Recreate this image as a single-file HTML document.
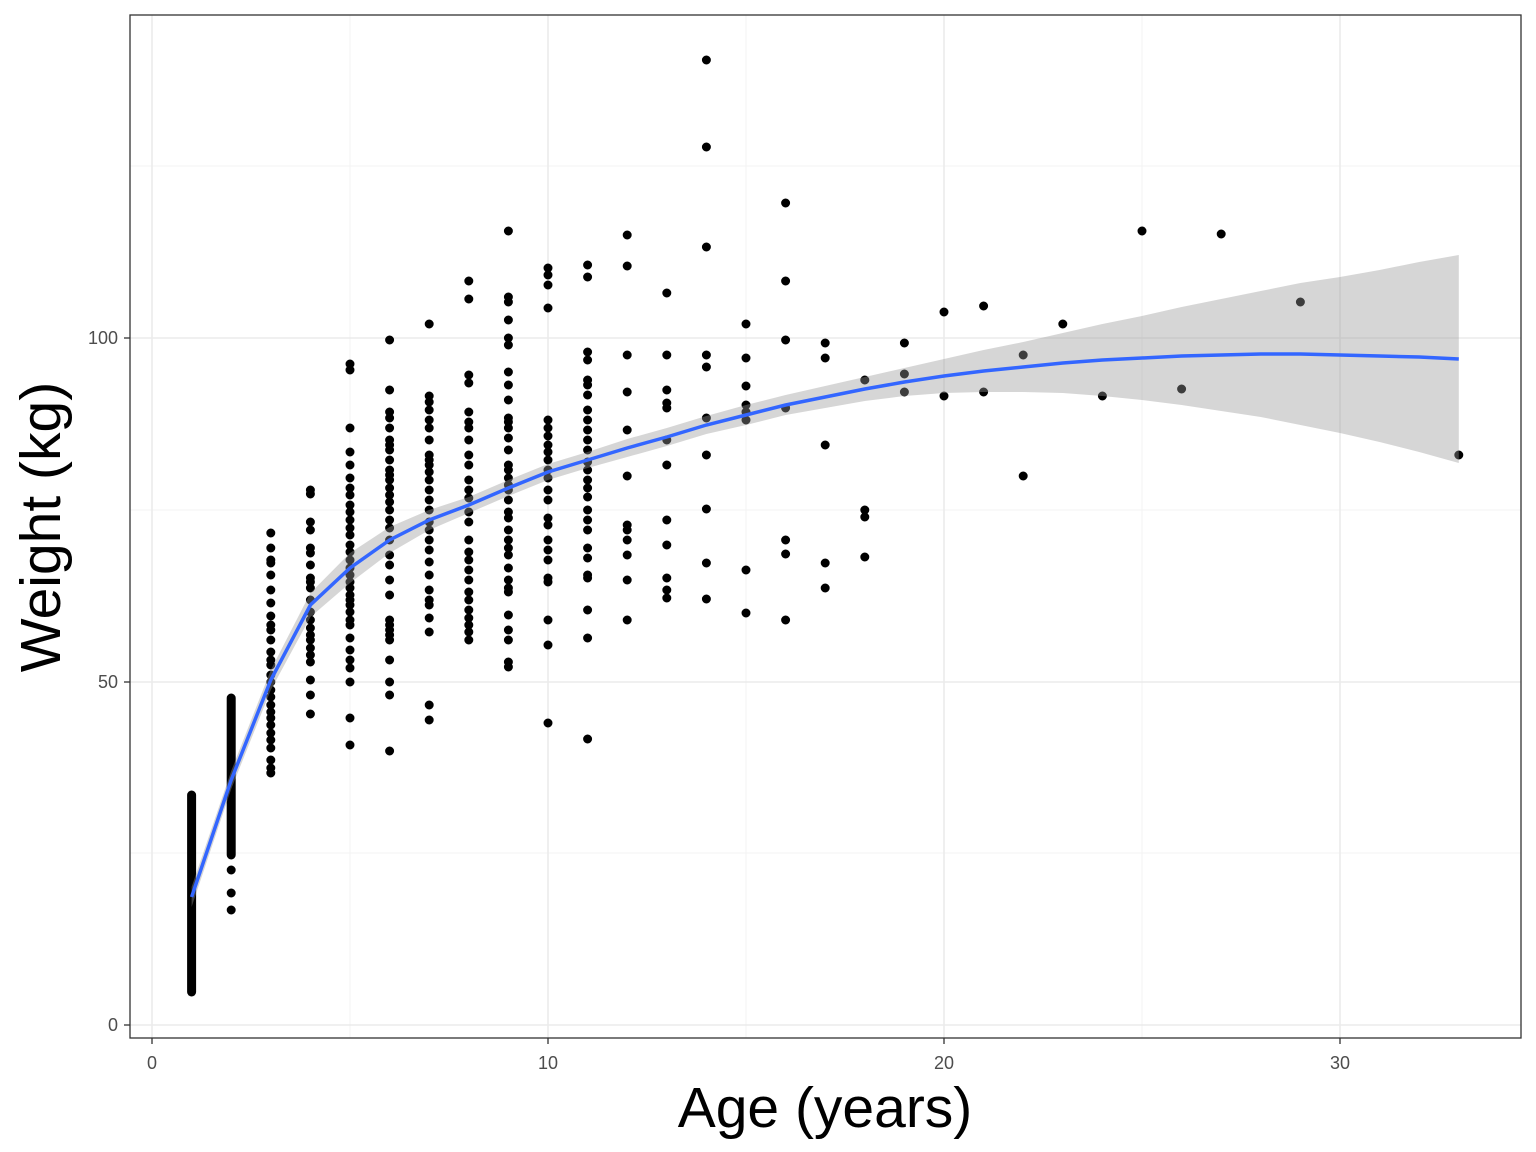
<!DOCTYPE html>
<html><head><style>body{margin:0;background:#fff}svg{display:block}</style></head><body>
<svg width="1536" height="1152" xmlns="http://www.w3.org/2000/svg" font-family="Liberation Sans, sans-serif">
<rect width="1536" height="1152" fill="#fff"/>
<g stroke="#f3f3f3" stroke-width="1">
<line x1="130" x2="1521" y1="853" y2="853"/><line x1="130" x2="1521" y1="510" y2="510"/><line x1="130" x2="1521" y1="166" y2="166"/>
<line x1="350" x2="350" y1="15" y2="1038"/><line x1="746" x2="746" y1="15" y2="1038"/><line x1="1142" x2="1142" y1="15" y2="1038"/>
</g>
<g stroke="#ebebeb" stroke-width="1.6">
<line x1="130" x2="1521" y1="1025" y2="1025"/><line x1="130" x2="1521" y1="682" y2="682"/><line x1="130" x2="1521" y1="338" y2="338"/>
<line x1="152" x2="152" y1="15" y2="1038"/><line x1="548" x2="548" y1="15" y2="1038"/><line x1="944" x2="944" y1="15" y2="1038"/><line x1="1340" x2="1340" y1="15" y2="1038"/>
</g>
<g fill="none" stroke="#000" stroke-width="9" stroke-linecap="round">
<path d="M191.6,795V992"/>
<path d="M231.2,698V855 M231.2,870v0 M231.2,893v0 M231.2,910v0"/>
<path d="M270.8,533v0M270.8,548v0M270.8,560v0M270.8,563v0M270.8,575v0M270.8,590v0M270.8,603v0M270.8,616v0M270.8,625v0M270.8,630v0M270.8,640v0M270.8,652v0M270.8,660v0M270.8,665v0M270.8,675v0M270.8,682v0M270.8,690v0M270.8,697v0M270.8,705v0M270.8,712v0M270.8,718v0M270.8,725v0M270.8,733v0M270.8,740v0M270.8,748v0M270.8,760v0M270.8,768v0M270.8,773v0"/>
<path d="M310.4,490v0M310.4,494v0M310.4,522v0M310.4,530v0M310.4,548v0M310.4,553v0M310.4,565v0M310.4,578v0M310.4,582v0M310.4,588v0M310.4,600v0M310.4,612v0M310.4,620v0M310.4,628v0M310.4,635v0M310.4,640v0M310.4,648v0M310.4,655v0M310.4,662v0M310.4,680v0M310.4,695v0M310.4,714v0"/>
<path d="M350,364v0M350,370v0M350,428v0M350,452v0M350,465v0M350,478v0M350,488v0M350,495v0M350,505v0M350,512v0M350,520v0M350,528v0M350,535v0M350,545v0M350,552v0M350,560v0M350,568v0M350,575v0M350,582v0M350,588v0M350,595v0M350,600v0M350,605v0M350,612v0M350,620v0M350,625v0M350,638v0M350,650v0M350,660v0M350,668v0M350,682v0M350,718v0M350,745v0"/>
<path d="M389.6,340v0M389.6,390v0M389.6,412v0M389.6,418v0M389.6,428v0M389.6,440v0M389.6,445v0M389.6,450v0M389.6,460v0M389.6,470v0M389.6,475v0M389.6,480v0M389.6,488v0M389.6,495v0M389.6,502v0M389.6,510v0M389.6,520v0M389.6,528v0M389.6,540v0M389.6,555v0M389.6,565v0M389.6,580v0M389.6,595v0M389.6,620v0M389.6,625v0M389.6,630v0M389.6,635v0M389.6,640v0M389.6,660v0M389.6,682v0M389.6,695v0M389.6,751v0"/>
<path d="M429.2,324v0M429.2,396v0M429.2,402v0M429.2,410v0M429.2,420v0M429.2,428v0M429.2,440v0M429.2,455v0M429.2,460v0M429.2,465v0M429.2,472v0M429.2,480v0M429.2,490v0M429.2,500v0M429.2,510v0M429.2,522v0M429.2,530v0M429.2,540v0M429.2,550v0M429.2,562v0M429.2,575v0M429.2,590v0M429.2,600v0M429.2,605v0M429.2,618v0M429.2,632v0M429.2,705v0M429.2,720v0"/>
<path d="M468.8,281v0M468.8,299v0M468.8,375v0M468.8,383v0M468.8,412v0M468.8,422v0M468.8,428v0M468.8,440v0M468.8,455v0M468.8,465v0M468.8,480v0M468.8,490v0M468.8,498v0M468.8,512v0M468.8,522v0M468.8,540v0M468.8,552v0M468.8,560v0M468.8,570v0M468.8,580v0M468.8,592v0M468.8,600v0M468.8,610v0M468.8,618v0M468.8,625v0M468.8,632v0M468.8,640v0"/>
<path d="M508.4,231v0M508.4,297v0M508.4,302v0M508.4,320v0M508.4,338v0M508.4,345v0M508.4,372v0M508.4,385v0M508.4,400v0M508.4,418v0M508.4,422v0M508.4,428v0M508.4,438v0M508.4,450v0M508.4,465v0M508.4,470v0M508.4,478v0M508.4,485v0M508.4,490v0M508.4,500v0M508.4,512v0M508.4,518v0M508.4,530v0M508.4,540v0M508.4,548v0M508.4,555v0M508.4,568v0M508.4,580v0M508.4,588v0M508.4,592v0M508.4,615v0M508.4,630v0M508.4,640v0M508.4,662v0M508.4,667v0"/>
<path d="M548,268v0M548,275v0M548,285v0M548,308v0M548,420v0M548,428v0M548,436v0M548,445v0M548,452v0M548,460v0M548,470v0M548,478v0M548,490v0M548,500v0M548,518v0M548,525v0M548,540v0M548,550v0M548,560v0M548,578v0M548,582v0M548,620v0M548,645v0M548,723v0"/>
<path d="M587.6,265v0M587.6,277v0M587.6,352v0M587.6,360v0M587.6,380v0M587.6,385v0M587.6,395v0M587.6,410v0M587.6,420v0M587.6,430v0M587.6,440v0M587.6,450v0M587.6,462v0M587.6,470v0M587.6,480v0M587.6,488v0M587.6,497v0M587.6,510v0M587.6,520v0M587.6,530v0M587.6,548v0M587.6,558v0M587.6,575v0M587.6,578v0M587.6,610v0M587.6,638v0M587.6,739v0"/>
<path d="M627.2,235v0M627.2,266v0M627.2,355v0M627.2,392v0M627.2,430v0M627.2,476v0M627.2,525v0M627.2,530v0M627.2,540v0M627.2,555v0M627.2,580v0M627.2,620v0"/>
<path d="M666.8,293v0M666.8,355v0M666.8,390v0M666.8,403v0M666.8,408v0M666.8,440v0M666.8,465v0M666.8,520v0M666.8,545v0M666.8,578v0M666.8,590v0M666.8,598v0"/>
<path d="M706.4,60v0M706.4,147v0M706.4,247v0M706.4,355v0M706.4,367v0M706.4,418v0M706.4,455v0M706.4,509v0M706.4,563v0M706.4,599v0"/>
<path d="M746,324v0M746,358v0M746,386v0M746,405v0M746,412v0M746,420v0M746,570v0M746,613v0"/>
<path d="M785.6,203v0M785.6,281v0M785.6,340v0M785.6,408v0M785.6,540v0M785.6,554v0M785.6,620v0"/>
<path d="M825.2,343v0M825.2,358v0M825.2,445v0M825.2,563v0M825.2,588v0"/>
<path d="M864.8,380v0M864.8,510v0M864.8,517v0M864.8,557v0"/>
<path d="M904.4,343v0M904.4,374v0M904.4,392v0M944,312v0M944,396v0M983.6,306v0M983.6,392v0M1023.2,355v0M1023.2,476v0M1062.8,324v0M1102.4,396v0M1142,231v0M1181.6,389v0M1221.2,234v0M1300.4,302v0M1458.8,455v0"/>
</g>
<path fill="#999" fill-opacity="0.4" d="M191.6,887 L231.2,771 L270.8,670 L310.4,593 L350,553 L389.6,527 L429.2,510 L468.8,497 L508.4,480 L548,464 L587.6,452 L627.2,439 L666.8,428 L706.4,416 L746,405 L785.6,395 L825.2,386 L864.8,377 L904.4,368 L944,359 L983.6,350 L1023.2,342 L1062.8,333 L1102.4,324 L1142,316 L1181.6,307 L1221.2,299 L1260.8,291 L1300.4,283 L1340,277 L1379.6,270 L1419.2,262 L1458.8,255 L1458.8,463 L1419.2,452 L1379.6,442 L1340,433 L1300.4,425 L1260.8,417 L1221.2,411 L1181.6,405 L1142,400 L1102.4,396 L1062.8,393 L1023.2,392 L983.6,392 L944,393 L904.4,396 L864.8,401 L825.2,408 L785.6,415 L746,425 L706.4,434 L666.8,446 L627.2,457 L587.6,468 L548,480 L508.4,496 L468.8,513 L429.2,530 L389.6,553 L350,583 L310.4,617 L270.8,690 L231.2,789 L191.6,907 Z"/>
<polyline fill="none" stroke="#3366ff" stroke-width="3.5" points="191.6,897 231.2,780 270.8,680 310.4,605 350,568 389.6,540 429.2,520 468.8,505 508.4,488 548,472 587.6,460 627.2,448 666.8,437 706.4,425 746,415 785.6,405 825.2,397 864.8,389 904.4,382 944,376 983.6,371 1023.2,367 1062.8,363 1102.4,360 1142,358 1181.6,356 1221.2,355 1260.8,354 1300.4,354 1340,355 1379.6,356 1419.2,357 1458.8,359"/>
<rect x="130" y="15" width="1391" height="1023" fill="none" stroke="#333" stroke-width="1.3"/>
<g stroke="#333" stroke-width="1.3">
<line x1="152" x2="152" y1="1038" y2="1044"/><line x1="548" x2="548" y1="1038" y2="1044"/><line x1="944" x2="944" y1="1038" y2="1044"/><line x1="1340" x2="1340" y1="1038" y2="1044"/>
<line x1="124" x2="130" y1="1025" y2="1025"/><line x1="124" x2="130" y1="682" y2="682"/><line x1="124" x2="130" y1="338" y2="338"/>
</g>
<g fill="#4d4d4d" font-size="18" text-anchor="middle">
<text x="152" y="1069">0</text><text x="548" y="1069">10</text><text x="944" y="1069">20</text><text x="1340" y="1069">30</text>
</g>
<g fill="#4d4d4d" font-size="18" text-anchor="end">
<text x="118" y="1031">0</text><text x="118" y="688">50</text><text x="118" y="344">100</text>
</g>
<text x="825" y="1127" font-size="57" text-anchor="middle">Age (years)</text>
<text transform="translate(60,527) rotate(-90)" font-size="57" text-anchor="middle">Weight (kg)</text>
</svg>
</body></html>
